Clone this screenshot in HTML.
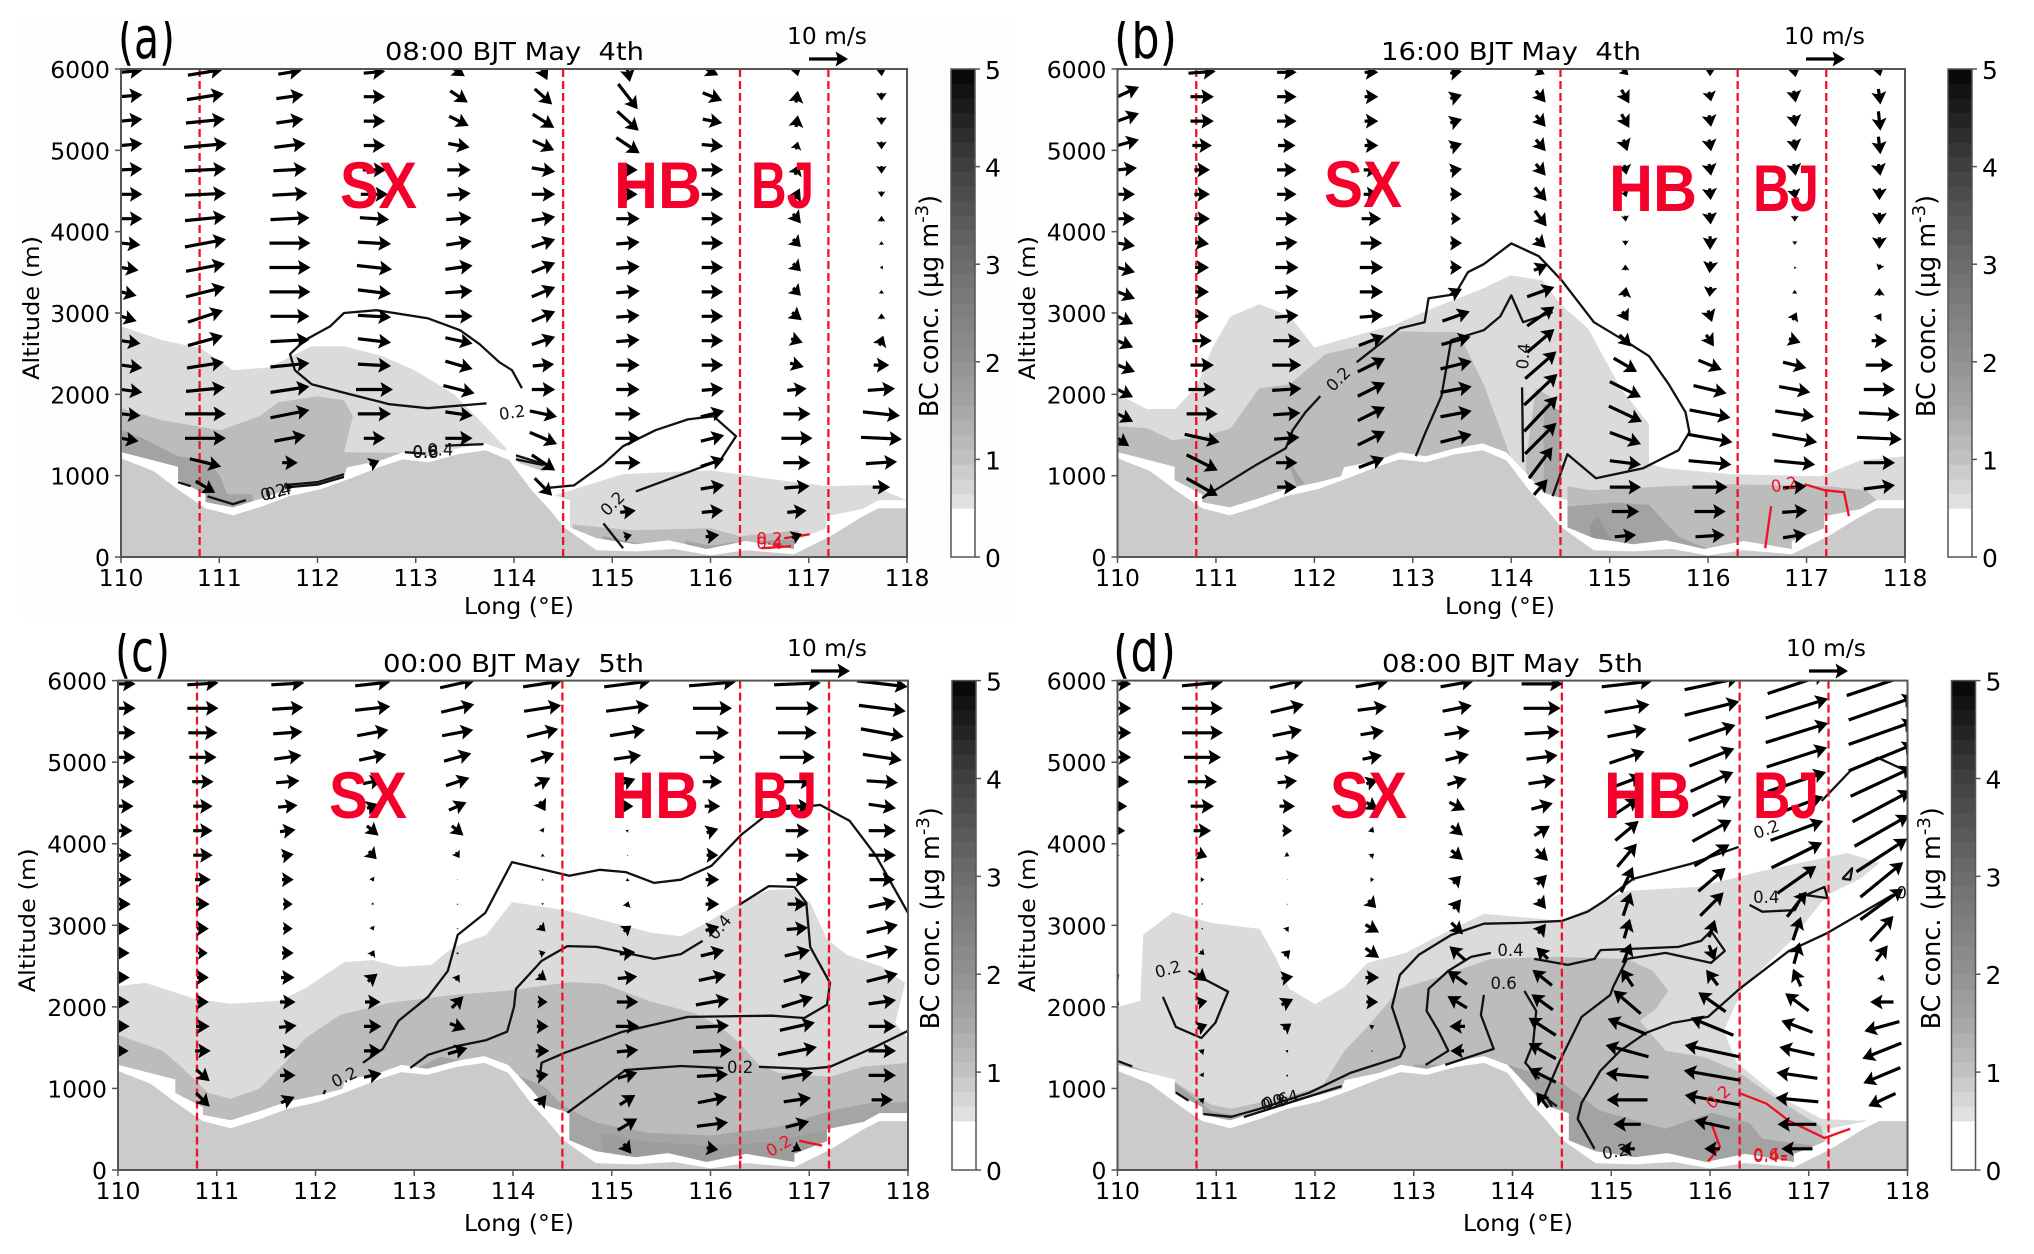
<!DOCTYPE html>
<html lang="en">
<head>
<meta charset="utf-8">
<title>BC concentration cross sections</title>
<style>
html,body{margin:0;padding:0;background:#fff;}
svg{display:block;}
text{font-family:"DejaVu Sans","Liberation Sans",sans-serif;fill:#000;}
.region{font-family:"Liberation Sans",sans-serif;font-weight:bold;fill:#f5002a;font-size:66px;}
</style>
</head>
<body>
<svg id="chart" xmlns="http://www.w3.org/2000/svg" width="2034" height="1254" viewBox="0 0 2034 1254">
<rect x="22" y="20" width="992" height="598" fill="#fdfdfd"/>
</svg>
<script>
// ---------- shared data ----------
const longTicks = [110,111,112,113,114,115,116,117,118];
const altTicks = [0,1000,2000,3000,4000,5000,6000];
const cbarTicks = [0,1,2,3,4,5];
const boundaryLongs = [110.8,114.5,116.3,117.2];
const windLongs = [110,110.86,111.72,112.58,113.44,114.3,115.16,116.02,116.88,117.74];
const windAlts = [5960,5660,5360,5060,4760,4460,4160,3860,3560,3260,2960,2660,2360,2060,1760,1460,1160,860,560,260];
const refSpeed = [10];
const cbarLevels = [0,0.5,0.65,0.8,0.95,1.1,1.25,1.4,1.55,1.7,1.85,2,2.15,2.3,2.45,2.6,2.75,2.9,3.05,3.2,3.35,3.5,3.65,3.8,3.95,4.1,4.25,4.4,4.55,4.7,4.85,5];
const terrainProfile = [[110,1215],[110.33,1057],[110.59,821],[110.86,600],[111.14,511],[111.44,625],[111.71,748],[112.04,836],[112.34,969],[112.65,1116],[112.87,1200],[113.13,1166],[113.43,1264],[113.71,1313],[113.95,1190],[114.18,821],[114.35,600],[114.51,364],[114.84,84],[115.24,69],[115.63,98],[116,20],[116.36,84],[116.85,34],[117.22,256],[117.55,502],[117.71,600],[118,600]];
const dataFloor = [[110,1290],[110.58,1110],[110.58,945],[110.86,770],[110.86,675],[111.14,610],[111.44,723],[111.71,836],[112.04,920],[112.27,993],[112.3,1102],[112.65,1190],[112.87,1288],[113.13,1239],[113.43,1338],[113.71,1397],[113.95,1288],[114.18,993],[114.32,797],[114.57,698],[114.57,364],[114.84,231],[115.24,157],[115.57,207],[115.96,98],[116.36,197],[116.85,98],[116.85,197],[117.18,354],[117.18,502],[117.55,590],[117.71,698],[118,698]];

// ---------- panel (a) ----------
const fillsA = [
 {c:0.6,p:[[110,2838],[110.42,2665],[110.81,2567],[111.14,2297],[111.51,2331],[111.94,2592],[112.27,2592],[112.66,2469],[112.99,2297],[113.39,2002],[113.65,1682],[113.92,1338],[113.92,0],[110,0]]},
 {c:0.6,p:[[114.38,748],[114.58,821],[115.1,1018],[116,1067],[116.56,969],[117.19,870],[117.62,885],[118,698],[118,0],[114.38,0]]},
 {c:0.9,p:[[114.02,1240],[114.4,1120],[114.3,1050],[114.02,1170]]},
 {c:1.05,p:[[110,1829],[110.42,1682],[111.01,1559],[111.41,1731],[111.6,1903],[112,1977],[112.27,1928],[112.36,1731],[112.3,1436],[112.27,1288],[112.9,1280],[113,1240],[113,0],[110,0]]},
 {c:1.05,p:[[114.6,400],[115.2,330],[116,354],[116.3,256],[116.9,330],[116.9,0],[114.6,0]]},
 {c:1.55,p:[[110,1559],[110.22,1460],[110.58,1239],[110.88,1190],[111.01,993],[111.08,772],[111.34,772],[111.34,0],[110,0]]},
 {c:1.55,p:[[114.9,260],[115.25,170],[115.6,170],[115.6,0],[114.9,0]]},
 {c:1.55,p:[[115.75,200],[116,140],[116.3,190],[116.3,0],[115.75,0]]},
 {c:1.55,p:[[116.5,200],[116.85,220],[116.85,0],[116.5,0]]}
];
const linesA = [
 {k:'black',p:[[114.08,2075],[113.98,2297],[113.85,2395],[113.65,2616],[113.45,2788],[113.12,2936],[112.6,3034],[112.27,3000],[112.13,2838],[111.87,2665],[111.72,2493],[111.77,2297],[111.94,2125],[112.33,2002],[112.73,1879],[113.12,1829],[113.72,1889]]},
 {k:'black',p:[[115.24,807],[116.1,1190],[116.26,1485],[116.03,1731],[115.77,1692],[115.44,1559],[115.11,1362],[114.91,1141],[114.61,880],[114.31,846]]},
 {k:'black',p:[[110.58,920],[110.71,870]]},
 {k:'black',p:[[110.88,745],[111.14,650],[111.27,700]]},
 {k:'black',p:[[111.67,885],[112,920],[112.27,1018]]},
 {k:'black',p:[[111.67,855],[112,890],[112.27,985]]},
 {k:'black',p:[[112.89,1288],[113.1,1270]]},
 {k:'black',p:[[113.3,1370],[113.69,1387]]},
 {k:'black',p:[[114.02,1250],[114.38,1115]]},
 {k:'black',p:[[114.02,1200],[114.3,1130]]},
 {k:'black',p:[[114.91,413],[115.11,108]]},
 {k:'red',p:[[116.52,108],[116.82,133]]},
 {k:'red',p:[[116.75,231],[117.01,280]]}
];
const labelsA = [
 {k:'black',x:113.98,y:1780,t:'0.2',r:-8},
 {k:'black',x:111.55,y:800,t:'0.2',r:-15},{k:'black',x:111.6,y:810,t:'0.4',r:-15},
 {k:'black',x:113.1,y:1290,t:'0.8',r:0},{k:'black',x:113.1,y:1300,t:'0.6',r:0},{k:'black',x:113.25,y:1320,t:'0.4',r:0},
 {k:'black',x:115.0,y:660,t:'0.2',r:-45},
 {k:'red',x:116.6,y:230,t:'0.2',r:0},{k:'red',x:116.6,y:170,t:'0.4',r:0}
];
const windARows = [
 [[11,1],[9,1.5],[6,1],[5.5,0.5],[3,-2],[2,-4],[1,-5],[3,-1.5],[0.5,-2],[0.2,-2]],
 [[11,1],[9.5,1.5],[7,1],[5.5,0],[4.5,-3],[4.5,-4],[5,-6.5],[5,-2],[0.5,3],[0,-2]],
 [[11,1],[10,1],[7,1],[5.5,0],[5,-2.5],[5.5,-3.5],[5.5,-5],[5,-1],[0.5,3],[0,-2]],
 [[11,1],[11,1],[8,1],[5.5,0],[5.5,-1],[5.5,-2.5],[6,-4],[5.5,-0.5],[0.5,2],[0,-2]],
 [[11,0.5],[10.5,0.5],[8.5,0.5],[6,0],[6,0],[6,-1],[5,0],[5.5,0],[1,2.5],[0,-2]],
 [[11,0],[10.5,0.5],[9,0.5],[7,0],[6,0.5],[6,0],[5,0],[5.5,0],[1.5,3],[0,-1.5]],
 [[11,0],[10.5,1],[10,0.5],[7.5,-0.5],[6.5,0.5],[6,1],[6,0],[5.5,0],[2,-2.5],[0,1.5]],
 [[10,-1],[10.5,2],[10.5,0],[8.5,-0.5],[6.5,1],[6,2],[6,0.5],[5.5,0],[2,-2],[0,1]],
 [[9,-1.5],[10,2],[10.5,0],[9,-1],[7,1],[6,2.5],[6,0.5],[5.5,0],[2,-2],[-0.8,0]],
 [[8,-2],[10,2.5],[10.5,0],[8.5,-1],[7,0.5],[6,2.5],[6,0.5],[5.5,0],[2,-2],[0,1]],
 [[8,-2.5],[9,3],[10,0],[8.5,-0.5],[7,0],[6,2.5],[6,0.5],[5.5,0],[2.5,-2],[0,1.5]],
 [[10,-1.5],[9,2.5],[10,0.5],[8.5,-1],[7,-1.5],[6,2],[6,0.5],[5.5,0],[3,-1],[1,2.5]],
 [[11,-1.5],[9.5,1.5],[10,1],[8.5,-0.5],[7,-2],[5.5,0.5],[6,0],[5.5,0],[3.5,-1],[4,0]],
 [[11,-1.5],[10,1],[10,1.5],[9.5,0],[8,-2],[6,0],[6,0],[5.5,0.5],[5,0.5],[7,0.5]],
 [[10,-1],[10.5,0],[10,2],[8.5,0],[7,-1],[7,-1.5],[6.5,0],[6,1.5],[7,0],[9.5,-1]],
 [[9,-1.5],[10.5,0],[8,1.5],[5.5,0],[7,0],[7,-3],[6.5,0],[6,1.5],[8,0],[10.5,-0.5]],
 [[0,0],[8,-2],[4,0],[2.5,1],[0,0],[6,-4],[6.5,0],[6,2],[7,0],[8,0.5]],
 [[0,0],[5,-3],[1.5,0],[0,0],[0,0],[4.5,-4.5],[0,0],[6,1],[6.5,0.5],[4.5,0]],
 [[0,0],[0,0],[0,0],[0,0],[0,0],[0,0],[4,0.5],[5.5,0.5],[5,0.5],[0,0]],
 [[0,0],[0,0],[0,0],[0,0],[0,0],[0,0],[2,0.5],[3.5,0.5],[2.5,1],[0,0]]
];

// ---------- panel (b) ----------
const fillsB = [
 {c:0.6,p:[[110,2002],[110.3,1820],[110.59,1820],[110.82,2125],[110.96,2567],[111.15,2961],[111.44,3108],[111.75,2961],[112,2577],[112.47,2739],[112.83,2862],[113.2,3059],[113.72,3305],[113.99,3462],[114.32,3403],[114.5,3108],[114.78,2813],[115.11,2075],[115.4,1633],[115.4,1141],[115.57,1092],[116.23,1018],[117.15,993],[117.55,1190],[118,1239],[118,0],[110,0]]},
 {c:1.05,p:[[110,1608],[110.3,1584],[110.56,1436],[110.89,1485],[111.15,1584],[111.44,2075],[111.75,2125],[112.11,2493],[112.54,2616],[112.87,2774],[113.46,2764],[113.72,2125],[113.99,1239],[113.99,0],[110,0]]},
 {c:1.05,p:[[114.15,1190],[114.25,2075],[114.45,1930],[114.5,950],[114.32,700],[114.15,900]]},
 {c:1.05,p:[[114.57,870],[114.81,821],[115.57,870],[116.23,895],[117.22,870],[117.61,821],[117.71,698],[117.71,0],[114.57,0]]},
 {c:1.55,p:[[111.71,1240],[111.9,900],[111.55,772],[111.55,600],[111.9,600]]},
 {c:1.45,p:[[114.33,1880],[114.5,1800],[114.5,700],[114.33,700]]},
 {c:1.55,p:[[114.57,620],[115.05,670],[115.4,640],[115.7,250],[116,100],[116,0],[114.57,0]]},
 {c:1.85,p:[[114.8,400],[114.88,500],[115.02,200],[115.3,100],[115.3,0],[114.8,0]]}
];
const linesB = [
 {k:'black',p:[[110.86,723],[110.99,821],[111.42,1141],[111.71,1338],[111.78,1559],[111.91,1780],[112.06,1977]]},
 {k:'black',p:[[112.43,2395],[112.87,2813],[113.12,2887],[113.16,3182],[113.43,3231],[113.56,3502],[113.72,3600],[114,3856],[114.28,3698],[114.51,3403],[114.84,2887],[115.21,2616],[115.4,2469],[115.6,2125],[115.77,1780],[115.81,1534],[115.7,1313],[115.34,1092],[114.86,969],[114.57,1264],[114.42,748]]},
 {k:'black',p:[[113.03,1239],[113.13,1534],[113.29,1977],[113.39,2665],[113.72,2788],[113.89,2961],[114,3216],[114.12,2887],[114.42,3010]]},
 {k:'black',p:[[114.12,1166],[114.11,2085]]},
 {k:'red',p:[[116.58,108],[116.64,625]]},
 {k:'red',p:[[116.98,895],[117.18,821],[117.38,797],[117.43,502]]}
];
const labelsB = [
 {k:'black',x:112.24,y:2190,t:'0.2',r:-45},
 {k:'black',x:114.12,y:2470,t:'0.4',r:-85},
 {k:'red',x:116.77,y:895,t:'0.2',r:-10}
];
const windBCols = [
 [[0,0],[11,5],[11,4],[11,3],[10,1],[9,0],[9,0],[9,-1.5],[9,-2.5],[9,-3.5],[8,-4],[8,-3.5],[9,-3.5],[8,-4],[8,-4],[6,-4]],
 [[7,0.5],[6,0],[6,0],[5,0],[4,0],[4,0],[4,0],[3.5,-0.5],[3.5,0],[3.5,0],[3.5,0],[5,0],[6,0],[7,0],[8,0],[9,-2],[8,-4],[8,-4.5]],
 [[5,0],[5,0],[5,0],[4.5,0],[5,0],[5,0],[5.5,0],[5.5,0.5],[6,0],[6,0.5],[6,0.5],[7,0],[7.5,0],[7.5,0.5],[7,0.5],[6.5,0.5],[5.5,0],[5,0]],
 [[3.5,0],[3.5,0],[3.5,0],[3.5,0],[4,0],[4,0],[5,0],[5.5,0],[6,0],[6,0],[6,0.5],[6.5,2.5],[7,3.5],[7,3.5],[7,3.5],[7,3.5],[6.5,2.5]],
 [[3,0.5],[3,1],[3,1],[3,1],[3,0.5],[3,0],[2.5,0],[3,0],[3,0],[3,1.5],[7,2.5],[7.5,2],[8,2],[8,1.5],[8,1.5],[8,2]],
 [[2,-1],[2.5,-3],[2.5,-3],[2.5,-3],[2.5,-3],[3,-3.5],[3,-4],[2.5,-2.5],[3.5,1.5],[7,2.5],[7,5],[7,6],[8,7],[8.5,8],[8.5,9],[8,8],[6,8],[3.5,4]],
 [[1.5,-1.5],[2,-3.5],[2,-3.5],[1,-3],[0.5,-2.5],[0.5,-1.5],[0.2,-1.5],[0,-1.3],[0,1.5],[0.5,2.5],[1.5,-2.5],[3,-3],[6,-3.5],[8,-4],[8.5,-4],[8,-3],[8,-1],[8,0],[7,0],[5.5,0.5]],
 [[0,-2],[0.5,-2.5],[0.5,-3],[0.5,-3],[0.5,-3],[0.3,-3],[0.3,-3],[0,-3.5],[-0.3,-3],[-0.3,-2.5],[1,-3],[2,-3],[6,-2.5],[8.5,-2],[10.5,-2],[11.5,-2],[11,-1],[9,0],[8,0],[7.5,0.5]],
 [[0.5,-2.5],[0.5,-3],[0.5,-3],[0.5,-3],[0.5,-3],[0.5,-2.5],[0,-1.5],[0,-1],[-0.3,0.5],[0,1],[1,2],[3,-1],[6,-1.5],[8,-1.5],[10,-1.5],[11.5,-2],[10.5,-1],[6,0.5],[6.5,0.5],[6,1]],
 [[0.5,-2],[0.5,-4],[0.5,-5],[0.5,-4.5],[0.5,-3],[0,-3],[0,-3],[0,-3],[-0.5,-1.5],[0,2],[1,1.5],[4,0],[7,0],[8,0],[10.5,-0.5],[11.5,-0.5],[8,0],[8,1]]
];

// ---------- panel (c) ----------
const fillsC = [
 {c:0.6,p:[[110,2255],[110.28,2294],[110.78,2098],[111.14,2039],[111.63,2074],[111.89,2221],[112.29,2549],[112.58,2574],[112.84,2490],[113.17,2515],[113.4,2735],[113.73,2882],[113.99,3284],[114.52,3186],[115.41,2907],[115.7,2868],[115.96,3029],[116.29,3275],[116.59,3431],[116.85,3446],[117.01,3275],[117.18,2833],[117.38,2637],[117.74,2490],[117.97,2294],[117.87,1804],[118,1608],[118,0],[110,0]]},
 {c:1.05,p:[[110,1657],[110.45,1461],[110.64,1265],[110.91,946],[111.14,873],[111.43,995],[111.69,1314],[111.89,1608],[112.25,1902],[112.75,2049],[113.4,2147],[113.93,2196],[114.58,2304],[114.91,2284],[115.37,2074],[115.83,1926],[116.1,1755],[116.29,1559],[116.49,1289],[116.69,1191],[117.21,1142],[117.54,1265],[118,1314],[118,0],[110,0]]},
 {c:1.5,p:[[113.01,1240],[113.27,1387],[113.8,1289],[114.32,1020],[114.52,775],[114.85,578],[115.37,456],[116,422],[116.69,529],[117.21,725],[117.61,823],[118,833],[118,0],[113.01,0]]},
 {c:1.7,p:[[114.9,450],[115.4,340],[116,300],[116.6,340],[117.2,500],[117.3,0],[114.9,0]]}
];
const linesC = [
 {k:'black',p:[[112.48,1314],[112.68,1485],[112.84,1828],[113.14,2123],[113.34,2441],[113.44,2882],[113.72,3152],[113.99,3775],[114.57,3608],[114.88,3681],[115.14,3652],[115.43,3520],[115.7,3559],[116.01,3730],[116.31,4108],[116.62,4402],[117.11,4476],[117.41,4280],[117.67,3863],[118,3152]]},
 {k:'black',p:[[112.08,930],[112.1,980]]},
 {k:'black',p:[[112.96,1250],[113.14,1412],[113.4,1510],[113.73,1593],[113.94,1696],[114.01,2000],[114.03,2221],[114.29,2564],[114.55,2745],[114.85,2735],[115.43,2588],[115.7,2647],[115.92,2809]]},
 {k:'black',p:[[116.29,3250],[116.59,3480],[116.85,3471],[116.97,3275],[117.01,2735],[117.21,2294],[117.18,2025],[116.95,1863],[116.62,1892],[116.29,1887],[115.77,1877],[115.11,1696],[114.52,1436],[114.29,1314],[114.27,1142]]},
 {k:'black',p:[[114.55,701],[115.14,1226],[115.7,1275],[116.13,1250]]},
 {k:'black',p:[[116.49,1265],[116.98,1240],[117.21,1265],[117.67,1510],[118,1706]]},
 {k:'red',p:[[116.9,358],[117.13,299]]},
 {k:'red',p:[[116.29,140],[116.32,160]]}
];
const labelsC = [
 {k:'black',x:112.29,y:1142,t:'0.2',r:-25},
 {k:'black',x:116.09,y:2980,t:'0.4',r:-50},
 {k:'black',x:116.3,y:1260,t:'0.2',r:0},
 {k:'red',x:116.69,y:300,t:'0.2',r:-30}
];
const windCCols = [
 [[9,0],[9,0],[9,0],[9,0],[8.5,0],[8,0],[7.5,0],[7,0],[7,0],[6.5,0],[6,0],[6,0],[6,0],[6,0],[6,0],[5.5,0]],
 [[8,0.5],[8,0],[7.5,0],[7,0],[5.5,0],[5,0],[5,0],[5,0],[4,0],[3.5,0],[3,0],[2.5,0],[3,0],[3,0],[3.5,0],[4,0],[3.5,-3],[3.5,-3.5]],
 [[8.5,0.5],[8,0.5],[7.5,0.5],[7,1],[6,0.5],[5,0.5],[4,0.5],[3,0.5],[3,0],[2.5,0],[2.5,0],[3,0],[3.5,0],[4,0],[4.5,0.5],[4,0.5],[4,0],[3.5,1.5]],
 [[9,1],[9,1],[8,1.5],[7,1.5],[5,1],[3,1],[3,-2.5],[2,-2],[0.5,-1],[0.3,-0.5],[0.5,-1],[0.8,1.5],[2.5,2],[4,0],[4.5,0],[4.5,0],[4.5,1]],
 [[9,2],[8.5,2],[8,1.5],[7,2],[6,2],[4.5,2],[3,-2.5],[1,-1.5],[0.2,0],[0.2,0.3],[0.2,0.3],[0.3,0.5],[1,1.5],[3,3],[4,-1.5],[5,1.5]],
 [[10,1.5],[9.5,1.5],[8,2],[6,2],[4,2],[1.5,-2.5],[0.5,-1],[0,0.8],[0,0.5],[0,-0.5],[1.5,-1.5],[1.5,0.5],[2,-1.5],[2.5,0],[3,0],[3.5,0],[3,0.5],[2,2.5]],
 [[12,1.5],[11,1.5],[9,1.5],[7,1],[4,1.5],[3,0],[0.5,0.5],[0,0.3],[0,0.8],[0.5,1.5],[2,1.5],[4,0.5],[5,0.5],[5.5,0],[6,0],[5.5,0.5],[5,1.5],[4,2.5],[5,3],[2,-2.5]],
 [[12,1],[10,0],[8.5,0],[6.5,0],[5,0],[4,0],[3,1],[3,0],[3.5,0],[3.5,0],[3.5,1],[6,1.5],[7,1.5],[8.5,1.5],[8.5,0.5],[10,0.5],[8,0.5],[7.5,1.5],[8,1],[3,-0.5]],
 [[12,0.5],[11,0],[10,0],[9,0],[8,0],[7,0],[6,0],[6,0],[5.5,0],[5,0],[5.5,0.5],[6.5,1.5],[7,2],[8,2.5],[9,2],[10,2],[8,1.5],[7,1],[6,1.5],[2,-1]],
 [[13,-1.5],[12,-1.5],[11,-2],[10,-1.5],[8,-0.5],[7,-1],[7,0],[7,0],[6.5,0],[7,1.5],[8,2],[8,2],[8,2],[7,1],[7,0],[7,0],[7,0],[5.5,0]]
];

// ---------- panel (d) ----------
const fillsD = [
 {c:0.6,p:[[110,2000],[110.23,2074],[110.26,2882],[110.56,3162],[110.95,3029],[111.44,2956],[111.61,2588],[111.74,2221],[112,2034],[112.3,2245],[112.53,2539],[112.92,2662],[113.19,2833],[113.71,3142],[114.5,3054],[115.16,3422],[115.88,3471],[116.53,3667],[117.39,3887],[117.72,3765],[117.52,3569],[117.19,3373],[116.8,2784],[116.34,2245],[116.14,1706],[116.27,1314],[116.67,922],[117.13,627],[117.52,603],[118,701],[118,0],[110,0]]},
 {c:1.05,p:[[110,1338],[110.56,1093],[110.95,799],[111.15,750],[111.61,873],[112.07,1020],[112.3,1461],[112.53,1755],[112.86,2221],[113.19,2343],[113.78,2588],[114.43,2613],[115.16,2588],[115.42,2441],[115.58,2196],[115.45,1975],[115.29,1828],[115.55,1461],[115.94,1387],[116.27,1216],[116.67,873],[117.13,529],[117.16,284],[117.16,0],[110,0]]},
 {c:1.55,p:[[113,1290],[113.97,1289],[114.5,1069],[114.89,725],[115.55,505],[116.01,701],[116.4,578],[116.53,382],[117.13,284],[117.13,0],[113,0]]},
 {c:1.55,p:[[110.55,1100],[110.95,720],[111.4,620],[111.4,0],[110.55,0]]}
];
const linesD = [
 {k:'black',p:[[116.29,3961],[115.81,3755],[115.22,3569],[114.93,3299],[114.76,3167],[114.5,3054],[114.1,3029],[113.71,3020],[113.38,2882],[113.05,2637],[112.86,2392],[112.78,2000],[112.86,1706],[112.91,1510],[112.86,1387],[112.36,1191],[111.94,946],[111.44,750],[111.15,652],[110.87,686]]},
 {k:'black',p:[[117.13,4525],[117.42,4892],[117.7,5054],[117.99,4892]]},
 {k:'black',p:[[113.12,1289],[113.35,1461],[113.25,1706],[113.13,1951],[113.15,2221],[113.35,2441],[113.58,2613],[113.78,2662]]},
 {k:'black',p:[[113.32,1289],[113.81,1485],[113.68,1902],[113.71,2147]]},
 {k:'black',p:[[114.12,2196],[114.24,1951],[114.21,1559],[114.13,1314],[114.27,1118]]},
 {k:'black',p:[[114.22,2588],[114.56,2515],[114.83,2588],[114.89,2696],[115.68,2735],[115.91,2809],[116.01,2931],[116.15,2686],[116.01,2539],[115.55,2662],[115.16,2588],[115.02,2245],[114.99,2147],[114.7,1877],[114.47,1314],[114.33,922],[114.4,775]]},
 {k:'black',p:[[114.83,260],[114.66,627],[114.7,823],[114.89,1216],[115.09,1461],[115.35,1681],[115.62,1804],[115.98,1877],[116.3,2221],[116.8,2686],[117.19,2907],[117.85,3373]]},
 {k:'black',p:[[110.72,2441],[111.12,2186],[110.99,1804],[110.85,1618],[110.59,1755],[110.46,2123]]},
 {k:'black',p:[[116.4,3250],[116.53,3167],[116.86,3186],[116.93,3348],[117.16,3471],[117.19,3333],[116.9,3382]]},
 {k:'black',p:[[117.34,3569],[117.44,3700],[117.42,3560],[117.34,3569]]},
 {k:'black',p:[[110,1338],[110.15,1270]]},
 {k:'black',p:[[110.59,950],[110.72,850]]},
 {k:'black',p:[[111.28,650],[112.27,1029]]},
 {k:'black',p:[[114.3,920],[114.45,780]]},
 {k:'red',p:[[116.29,946],[116.57,814],[116.8,603],[117.16,392],[117.42,505]]},
 {k:'red',p:[[116.01,588],[116.1,284],[115.98,103]]},
 {k:'red',p:[[116.72,130],[116.78,130]]},
 {k:'red',p:[[116.72,170],[116.78,170]]}
];
const labelsD = [
 {k:'black',x:110.51,y:2465,t:'0.2',r:-15},
 {k:'black',x:116.57,y:4180,t:'0.2',r:-20},
 {k:'black',x:113.98,y:2700,t:'0.4',r:0},
 {k:'black',x:113.91,y:2294,t:'0.6',r:0},
 {k:'black',x:116.57,y:3348,t:'0.4',r:0},
 {k:'black',x:117.94,y:3400,t:'0',r:0},
 {k:'black',x:115.04,y:230,t:'0.2',r:-10},
 {k:'black',x:111.6,y:850,t:'0.6',r:-15},{k:'black',x:111.7,y:880,t:'0.4',r:-15},{k:'black',x:111.58,y:830,t:'0.8',r:-15},
 {k:'red',x:116.08,y:897,t:'0.2',r:-40},
 {k:'red',x:116.57,y:190,t:'0.6',r:0},{k:'red',x:116.57,y:170,t:'0.4',r:0}
];
const windDCols = [
 [[7,0],[7,0],[7,0],[7,0],[6,0],[5,0],[4,0],[1,0],[0.5,0],[0.3,0],[0.3,0],[0.3,0],[0.5,-1],[0.5,1],[0.3,0],[0.8,0]],
 [[10.5,1],[10.5,0],[10.5,0],[9.5,0],[7.5,0],[6,0],[4.5,0],[2.5,-1],[1,0],[0.2,-0.3],[0.3,0.3],[1,-1],[2.5,-2],[2.5,0.5],[2.5,1],[1,1],[0.5,-1],[1,1]],
 [[9,2],[8.5,2],[7.5,1.5],[6,1],[5,0.5],[4,0],[2.5,0],[1,-0.5],[0.2,0],[0.2,0.2],[0.8,1],[1.5,1.5],[3,0.5],[3,1.5],[2,1.5],[0.5,0.5],[0.2,0.5]],
 [[8.5,1.5],[7.5,1],[6,1],[5,1],[3,1],[3,-2],[1,-1],[1,0.8],[1,0],[2,-2],[3.5,-2],[3.5,-2.5],[3.5,0],[3,0],[1,0.5],[0.2,0.3]],
 [[8.5,1.5],[7.5,1.5],[6.5,1],[6,1.5],[5,1.5],[4,-2],[3,-2.5],[3,-2.5],[2,2],[2,2.5],[3,-3],[-4,3.5],[-5,3.5],[-5,3],[-4,0],[-3.5,0]],
 [[10.5,0],[9.5,0],[9,0.5],[8,1],[7,1],[5.5,1.5],[4,2.5],[3,-3],[2.5,2.5],[2,-2.5],[2,2.5],[-3,3],[-5,4],[-5.5,4],[-7,4.5],[-7,4],[-7,3.5],[-3,4]],
 [[13,1.5],[11.5,2],[10,2],[9,3],[8,3],[6,4],[6,5],[5,6],[3,6.5],[2,6],[1.5,5],[2,5],[-3,4.5],[-7,6],[-10,4],[-11,3],[-11,1],[-10.5,0],[-7,0],[-4,0]],
 [[14,3],[14,3.5],[12,4],[11.5,4.5],[11,5],[10,5],[10,5.5],[9,5.5],[7,6],[6,6],[1.5,4.5],[1.5,-4],[-3,4],[-7,5],[-11,4.5],[-14,3],[-14.5,2.5],[-14,2.5],[-9,2],[-4,0]],
 [[15,5],[16,5],[16,5],[15.5,5],[15,5],[13.5,5],[13.5,5],[13,6.5],[10,7],[5,6.5],[2,6],[1.5,5.5],[-2,4.5],[-6,4.5],[-8,3],[-9,2],[-10.5,1.5],[-11,1],[-10,0],[-8,0]],
 [[18,6],[17,6],[17,6],[17,7],[16,7.5],[15,8],[14,8],[13,8.5],[11,9],[11,8],[6,6.5],[3,4],[0.5,1.5],[-6,0],[-9,-2.5],[-10,-4],[-9.5,-4],[-7,-3.3]]
];

// ---------- layout (pixels, not data) ----------
const PANELS = [
 {id:'a',x0:121,x1:907,y0:69,y1:557,cb:951,fills:fillsA,lines:linesA,labels:labelsA,wind:windARows,byRow:true,
  tag:'(a)',tagX:[118,175],tagY:58,tagClip:21,title:'08:00 BJT May\u00a0\u00a04th',titleX:[385,644],titleY:60,
  refT:[787,867],refY:44,refA:[809,59],altX:31,bcX:931,xtX:519,xtY:614,
  regions:[['SX',340,417,208],['HB',614,702,208],['BJ',751,814,208]]},
 {id:'b',x0:1117.5,x1:1905,y0:69,y1:557,cb:1948,fills:fillsB,lines:linesB,labels:labelsB,wind:windBCols,byRow:false,
  tag:'(b)',tagX:[1114,1177],tagY:58,tagClip:21,title:'16:00 BJT May\u00a0\u00a04th',titleX:[1381,1641],titleY:60,
  refT:[1784,1865],refY:44,refA:[1806,59],altX:1027,bcX:1928,xtX:1500,xtY:614,
  regions:[['SX',1324,1402,207],['HB',1609,1697,211],['BJ',1753,1819,211]]},
 {id:'c',x0:118,x1:908,y0:680.6,y1:1170,cb:952,fills:fillsC,lines:linesC,labels:labelsC,wind:windCCols,byRow:false,
  tag:'(c)',tagX:[115,170],tagY:671,tagClip:633,title:'00:00 BJT May\u00a0\u00a05th',titleX:[383,644],titleY:672,
  refT:[787,867],refY:656,refA:[811,671],altX:27,bcX:932,xtX:519,xtY:1231,
  regions:[['SX',329,407,818],['HB',611,699,818],['BJ',752,817,818]]},
 {id:'d',x0:1117.5,x1:1907.5,y0:680.6,y1:1170,cb:1951.5,fills:fillsD,lines:linesD,labels:labelsD,wind:windDCols,byRow:false,
  tag:'(d)',tagX:[1113,1176],tagY:671,tagClip:633,title:'08:00 BJT May\u00a0\u00a05th',titleX:[1382,1643],titleY:672,
  refT:[1786,1866],refY:656,refA:[1809,671],altX:1027,bcX:1933,xtX:1518,xtY:1231,
  regions:[['SX',1330,1407,818],['HB',1604,1691,818],['BJ',1753,1819,818]]}
];
const CB_W = 24, PX_PER_MS = 3.9, FRAME = '#555555';

// ---------- helpers ----------
const SVG_NS = 'http://www.w3.org/2000/svg';
const root = document.getElementById('chart');
function mk(tag, attrs, parent, txt){
  const e = document.createElementNS(SVG_NS, tag);
  for (const k in attrs) e.setAttribute(k, attrs[k]);
  if (txt !== undefined) e.textContent = txt;
  (parent || root).appendChild(e);
  return e;
}
function concColor(v){
  const s = [[0.5,226],[1,191],[1.5,165],[2,144],[3,107],[4,61],[5,2]];
  if (v < 0.5) return '#ffffff';
  for (let i = 1; i < s.length; i++){
    if (v <= s[i][0]){
      const t = (v - s[i-1][0]) / (s[i][0] - s[i-1][0]);
      const g = Math.round(s[i-1][1] + t * (s[i][1] - s[i-1][1]));
      return 'rgb(' + g + ',' + g + ',' + g + ')';
    }
  }
  return '#020202';
}
function arrowPath(cx, cy, dx, dy){
  const L = Math.hypot(dx, dy);
  const f = Math.min(1, L / 11);
  const hl = Math.min(L, 12.5 * f), hw = 7.5 * f, sw = 1.6 * f, notch = 0.85 * hl;
  const ux = dx / L, uy = dy / L, nx = -uy, ny = ux;
  const P = function(a, b){ return (cx + ux * a + nx * b).toFixed(1) + ',' + (cy + uy * a + ny * b).toFixed(1); };
  const t = -L / 2, h = L / 2;
  return [P(t,-sw),P(h-notch,-sw),P(h-hl,-hw),P(h,0),P(h-hl,hw),P(h-notch,sw),P(t,sw)].join(' ');
}

// ---------- drawing ----------
PANELS.forEach(function(P){
  const X = function(v){ return P.x0 + (v - 110) / 8 * (P.x1 - P.x0); };
  const Y = function(v){ return P.y1 - v / 6000 * (P.y1 - P.y0); };
  const toPts = function(a){ return a.map(function(q){ return X(q[0]).toFixed(1) + ',' + Y(q[1]).toFixed(1); }).join(' '); };

  const panel = mk('g', {}, root);
  
  

  const clip = mk('clipPath', {id:'clip-' + P.id}, panel);
  mk('rect', {x:P.x0, y:P.y0, width:P.x1 - P.x0, height:P.y1 - P.y0}, clip);
  const tagClip = mk('clipPath', {id:'tagclip-' + P.id}, panel);
  mk('rect', {x:P.tagX[0] - 10, y:P.tagClip, width:P.tagX[1] - P.tagX[0] + 20, height:70}, tagClip);

  const plot = mk('g', {'clip-path':'url(#clip-' + P.id + ')'}, panel);
  
  

  const plotBg = mk('rect', {x:P.x0, y:P.y0, width:P.x1 - P.x0, height:P.y1 - P.y0, fill:'#ffffff'}, plot);
  
  

  P.fills.slice().sort(function(a,b){ return a.c - b.c; }).forEach(function(F){
    const poly = mk('polygon', {points:toPts(F.p), fill:concColor(F.c)}, plot);
    
    
  });

  const gap = mk('polygon', {points:toPts(dataFloor.concat([[118,-50],[110,-50]])), fill:'#ffffff'}, plot);
  
  
  const ter = mk('polygon', {points:toPts(terrainProfile.concat([[118,0],[110,0]])), fill:'#cbcbcb'}, plot);
  
  

  P.lines.forEach(function(L){
    const line = mk('polyline', {points:toPts(L.p), fill:'none', stroke:L.k === 'red' ? '#f01020' : '#111111', 'stroke-width':2.3, 'stroke-linejoin':'round'}, plot);
    
    
  });

  boundaryLongs.forEach(function(b){
    const v = mk('line', {x1:X(b), x2:X(b), y1:Y(6000), y2:Y(0), stroke:'#f0102a', 'stroke-width':2.3, 'stroke-dasharray':'8 4'}, plot);
    
    
  });

  windLongs.forEach(function(lon, c){
    windAlts.forEach(function(alt, r){
      const row = P.byRow ? P.wind[r] : P.wind[c];
      const pair = P.byRow ? (row && row[c]) : (row && row[r]);
      if (!pair || (pair[0] === 0 && pair[1] === 0)) return;
      const a = mk('polygon', {points:arrowPath(X(lon), Y(alt), pair[0] * PX_PER_MS, -pair[1] * PX_PER_MS), fill:'#000000'}, plot);
      
      
    });
  });

  P.labels.forEach(function(T){
    const t = mk('text', {x:X(T.x), y:Y(T.y) + 6, 'font-size':16.5, 'text-anchor':'middle', transform:'rotate(' + T.r + ' ' + X(T.x) + ' ' + Y(T.y) + ')', style:'fill:' + (T.k === 'red' ? '#f01020' : '#111111')}, panel, T.t);
    
    
  });

  // axes frame
  const frame = mk('rect', {x:P.x0, y:P.y0, width:P.x1 - P.x0, height:P.y1 - P.y0, fill:'none', stroke:FRAME, 'stroke-width':2}, panel);
  
  

  longTicks.forEach(function(v){
    const tk = mk('line', {x1:X(v), x2:X(v), y1:P.y1, y2:P.y1 + 6, stroke:FRAME, 'stroke-width':1.5}, panel);
    
    
    const lb = mk('text', {x:X(v), y:P.y1 + 29, 'font-size':23.5, 'text-anchor':'middle'}, panel, String(v));
    
    
  });
  altTicks.forEach(function(v){
    const tk = mk('line', {x1:P.x0 - 6, x2:P.x0, y1:Y(v), y2:Y(v), stroke:FRAME, 'stroke-width':1.5}, panel);
    
    
    const lb = mk('text', {x:P.x0 - 11, y:Y(v) + 9, 'font-size':23.5, 'text-anchor':'end'}, panel, String(v));
    
    
  });

  const xt = mk('text', {x:P.xtX, y:P.xtY, 'font-size':23.5, 'text-anchor':'middle', textLength:110, lengthAdjust:'spacingAndGlyphs'}, panel, 'Long (\u00b0E)');
  
  
  const ym = (P.y0 + P.y1) / 2 - 5;
  const yt = mk('text', {x:P.altX + 8, y:ym, 'font-size':22, 'text-anchor':'middle', textLength:144, lengthAdjust:'spacingAndGlyphs', transform:'rotate(-90 ' + (P.altX + 8) + ' ' + ym + ')'}, panel, 'Altitude (m)');
  
  

  const title = mk('text', {x:P.titleX[0], y:P.titleY, 'font-size':25, textLength:P.titleX[1] - P.titleX[0], lengthAdjust:'spacingAndGlyphs'}, panel, P.title);
  
  

  const tag = mk('text', {x:P.tagX[0], y:P.tagY, 'font-size':58, textLength:P.tagX[1] - P.tagX[0], lengthAdjust:'spacingAndGlyphs', 'clip-path':'url(#tagclip-' + P.id + ')'}, panel, P.tag);
  
  

  P.regions.forEach(function(R){
    const t = mk('text', {x:R[1], y:R[3], 'class':'region', textLength:R[2] - R[1], lengthAdjust:'spacingAndGlyphs'}, panel, R[0]);
    
    
  });

  // reference arrow
  const rt = mk('text', {x:P.refT[0], y:P.refY, 'font-size':23.5, textLength:P.refT[1] - P.refT[0], lengthAdjust:'spacingAndGlyphs'}, panel, refSpeed[0] + ' m/s');
  
  
  const refLen = refSpeed[0] * PX_PER_MS;
  const ra = mk('polygon', {points:arrowPath(P.refA[0] + refLen / 2, P.refA[1], refLen, 0), fill:'#000000'}, panel);
  
  

  // colorbar
  const cbar = mk('g', {}, panel);
  
  
  const CY = function(v){ return P.y1 - v / 5 * (P.y1 - P.y0); };
  cbarLevels.forEach(function(lv, i){
    if (i === cbarLevels.length - 1) return;
    const next = cbarLevels[i + 1];
    const b = mk('rect', {x:P.cb, y:CY(next), width:CB_W, height:CY(lv) - CY(next) + 0.4, fill:concColor(lv + 0.02)}, cbar);
    
    
  });
  const cf = mk('rect', {x:P.cb, y:P.y0, width:CB_W, height:P.y1 - P.y0, fill:'none', stroke:FRAME, 'stroke-width':1.5}, cbar);
  
  
  cbarTicks.forEach(function(v){
    const tk = mk('line', {x1:P.cb + CB_W, x2:P.cb + CB_W + 5, y1:CY(v), y2:CY(v), stroke:FRAME, 'stroke-width':1.5}, cbar);
    
    
    const lb = mk('text', {x:P.cb + CB_W + 10, y:CY(v) + 10, 'font-size':25}, cbar, String(v));
    
    
  });
  const by = (P.y0 + P.y1) / 2 - 7;
  const bc = mk('text', {x:P.bcX + 7, y:by, 'font-size':25.5, 'text-anchor':'middle', transform:'rotate(-90 ' + (P.bcX + 7) + ' ' + by + ')'}, panel);
  
  
  mk('tspan', {}, bc, 'BC conc. (\u00b5g m');
  mk('tspan', {dy:-10, 'font-size':18}, bc, '-3');
  mk('tspan', {dy:10}, bc, ')');
});
</script>
</body>
</html>
